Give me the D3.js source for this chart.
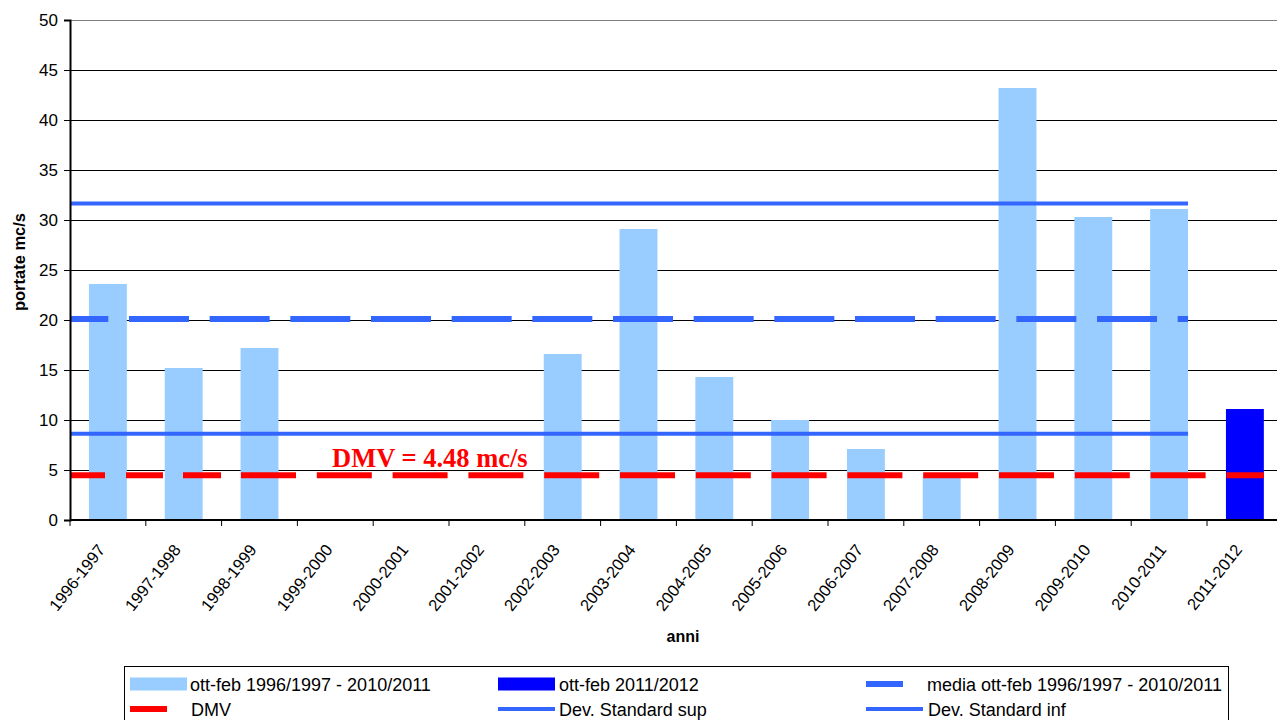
<!DOCTYPE html>
<html>
<head>
<meta charset="utf-8">
<script src="https://cdn.jsdelivr.net/npm/d3@7"></script>
<style>
  html, body { margin: 0; padding: 0; background: #fff; }
  svg { display: block; }
  text { font-family: "Liberation Sans", Arial, sans-serif; fill: #000; }
</style>
</head>
<body>
<svg id="chart" width="1277" height="720"></svg>
<script>
// Winter flows (Oct-Feb) per hydrological year
const categories = ["1996-1997","1997-1998","1998-1999","1999-2000","2000-2001","2001-2002",
  "2002-2003","2003-2004","2004-2005","2005-2006","2006-2007","2007-2008","2008-2009",
  "2009-2010","2010-2011","2011-2012"];
const historicValues = [23.6, 15.2, 17.2, 0, 0, 0, 16.6, 29.1, 14.3, 10.0, 7.1, 4.3, 43.2, 30.3, 31.1, null];
const currentValues  = [null, null, null, null, null, null, null, null, null, null, null, null, null, null, null, 11.1];
const meanValue = 20.1;
const stdUpper = 31.65;
const stdLower = 8.63;
const dmvValue = 4.48;
const yTicks = [0, 5, 10, 15, 20, 25, 30, 35, 40, 45, 50];
const legendLabels = ["ott-feb 1996/1997 - 2010/2011", "ott-feb 2011/2012", "media ott-feb 1996/1997 - 2010/2011",
  "DMV", "Dev. Standard sup", "Dev. Standard inf"];

const C_LIGHT = "#99CCFF", C_DARK = "#0000FF", C_LINE = "#3366FF", C_RED = "#FF0000";

const svg = d3.select("#chart");
const plotLeft = 70, plotTop = 20, plotBottom = 520, plotRight = 70 + 16 * 75.8;

const x = d3.scaleBand().domain(categories).range([plotLeft, plotRight]).padding(0);
const y = d3.scaleLinear().domain([0, 50]).range([plotBottom, plotTop]);
const bw = x.bandwidth() * 0.5;
const cx = c => x(c) + x.bandwidth() / 2;

// horizontal gridlines
svg.append("g").selectAll("line").data(yTicks.filter(t => t > 0)).join("line")
  .attr("x1", plotLeft).attr("x2", 1277)
  .attr("y1", d => Math.round(y(d)) + 0.5).attr("y2", d => Math.round(y(d)) + 0.5)
  .attr("stroke", d => d === 50 ? "#808080" : "#000").attr("stroke-width", 1);

// bars
svg.append("g").selectAll("rect").data(categories.map((c, i) => ({c, v: historicValues[i]})).filter(d => d.v))
  .join("rect")
  .attr("x", d => cx(d.c) - bw / 2).attr("width", bw)
  .attr("y", d => y(d.v)).attr("height", d => y(0) - y(d.v))
  .attr("fill", C_LIGHT);
svg.append("g").selectAll("rect").data(categories.map((c, i) => ({c, v: currentValues[i]})).filter(d => d.v))
  .join("rect")
  .attr("x", d => cx(d.c) - bw / 2).attr("width", bw)
  .attr("y", d => y(d.v)).attr("height", d => y(0) - y(d.v))
  .attr("fill", C_DARK);

// reference lines across the historic period
const histEnd = cx(categories[14]) + bw / 2;
const line = d3.line().x(d => d[0]).y(d => d[1]);
[stdUpper, stdLower].forEach(v => {
  svg.append("path").attr("d", line([[plotLeft, y(v)], [histEnd, y(v)]]))
    .attr("stroke", C_LINE).attr("stroke-width", 4).attr("fill", "none");
});
svg.append("path").attr("d", line([[plotLeft, y(meanValue)], [histEnd, y(meanValue)]]))
  .attr("stroke", C_LINE).attr("stroke-width", 6).attr("fill", "none")
  .attr("stroke-dasharray", "60,20.67").attr("stroke-dashoffset", 21.7);

// DMV threshold
const dmvEnd = cx(categories[15]) + bw / 2;
const dmvDash = [35, 21, 37, 20, 38, 20];
for (let i = 0; i < 15; i++) dmvDash.push(55, 20.8);
svg.append("path").attr("d", line([[plotLeft, y(dmvValue)], [dmvEnd, y(dmvValue)]]))
  .attr("stroke", C_RED).attr("stroke-width", 6).attr("fill", "none")
  .attr("stroke-dasharray", dmvDash.join(","));

svg.append("text").attr("x", 332).attr("y", 467)
  .style("font-family", "'Liberation Serif', 'Times New Roman', serif")
  .style("font-weight", "bold").style("font-size", "26.5px").style("fill", C_RED)
  .text("DMV = " + dmvValue + " mc/s");

// y axis
const yAxis = svg.append("g").attr("transform", `translate(${plotLeft},0)`)
  .call(d3.axisLeft(y).tickValues(yTicks).tickSize(6).tickPadding(6));
yAxis.select(".domain").attr("stroke", "#000").attr("stroke-width", 2);
yAxis.selectAll(".tick line").attr("stroke", "#000");
yAxis.selectAll(".tick text").style("font-size", "17px").style("font-family", "'Liberation Sans', Arial, sans-serif");

// x axis
svg.append("line").attr("x1", plotLeft).attr("x2", 1277).attr("y1", plotBottom).attr("y2", plotBottom)
  .attr("stroke", "#000").attr("stroke-width", 2);
svg.append("g").selectAll("line").data(categories.map((c) => x(c)))
  .join("line")
  .attr("x1", d => d).attr("x2", d => d).attr("y1", plotBottom).attr("y2", plotBottom + 6)
  .attr("stroke", "#000");
svg.append("g").selectAll("text").data(categories).join("text")
  .attr("transform", d => `translate(${cx(d) - 2},550) rotate(-52)`)
  .attr("text-anchor", "end").style("font-size", "16.5px")
  .text(d => d);

// axis titles
svg.append("text").attr("transform", "translate(25,262) rotate(-90)")
  .attr("text-anchor", "middle").style("font-weight", "bold").style("font-size", "16.5px")
  .text("portate mc/s");
svg.append("text").attr("x", 683).attr("y", 642)
  .attr("text-anchor", "middle").style("font-weight", "bold").style("font-size", "16px")
  .text("anni");

// legend
const lg = svg.append("g");
lg.append("rect").attr("x", 124.5).attr("y", 666.5).attr("width", 1104).attr("height", 70)
  .attr("fill", "#fff").attr("stroke", "#000");
const legendItems = [
  {label: legendLabels[0], type: "box", color: C_LIGHT, x0: 130, x1: 187, tx: 190, row: 0},
  {label: legendLabels[1], type: "box", color: C_DARK, x0: 498, x1: 555, tx: 559, row: 0},
  {label: legendLabels[2], type: "line", color: C_LINE, w: 6, x0: 866, x1: 903, tx: 927, row: 0},
  {label: legendLabels[3], type: "line", color: C_RED, w: 6, x0: 130, x1: 167, tx: 191, row: 1},
  {label: legendLabels[4], type: "line", color: C_LINE, w: 4, x0: 498, x1: 555, tx: 559, row: 1},
  {label: legendLabels[5], type: "line", color: C_LINE, w: 4, x0: 866, x1: 923, tx: 928, row: 1}
];
const rowY = [684, 709];
legendItems.forEach(it => {
  const yy = rowY[it.row];
  if (it.type === "box") {
    lg.append("rect").attr("x", it.x0).attr("y", yy - 6.5).attr("width", it.x1 - it.x0).attr("height", 13)
      .attr("fill", it.color);
  } else {
    lg.append("line").attr("x1", it.x0).attr("x2", it.x1).attr("y1", yy).attr("y2", yy)
      .attr("stroke", it.color).attr("stroke-width", it.w);
  }
  lg.append("text").attr("x", it.tx).attr("y", yy + 6.5).style("font-size", "18px").text(it.label);
});
</script>
</body>
</html>
